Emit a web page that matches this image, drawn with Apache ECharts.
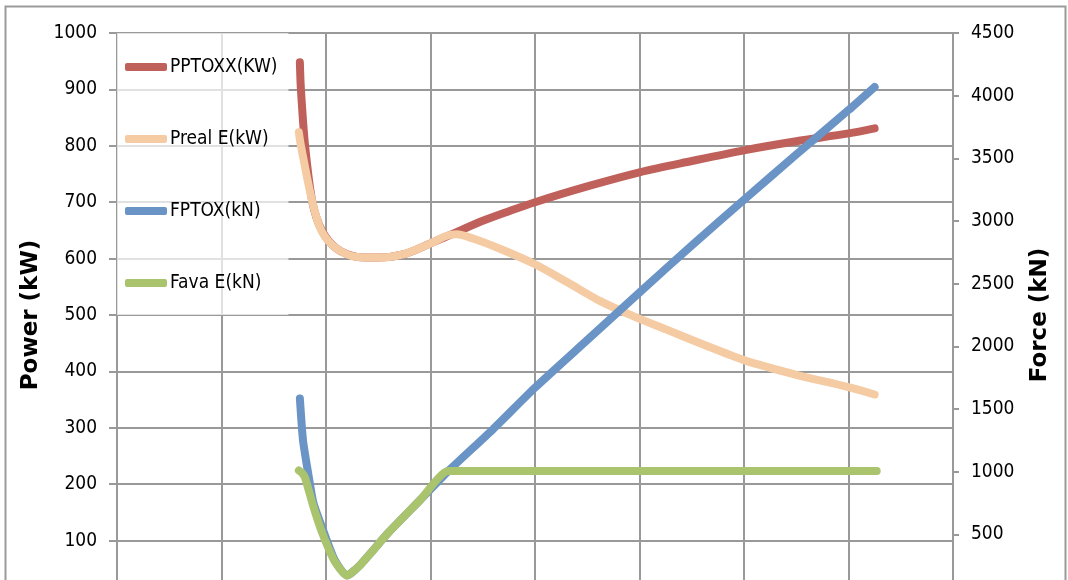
<!DOCTYPE html>
<html>
<head>
<meta charset="utf-8">
<script src="https://cdn.jsdelivr.net/npm/echarts@6/dist/echarts.min.js"></script>
<style>
html,body{margin:0;padding:0;background:#fff;}
#chart{width:1068px;height:580px;}
</style>
</head>
<body>
<div id="chart"></div>
<script>
// Series names
var seriesNames = ['PPTOXX(KW)', 'Preal E(kW)', 'FPTOX(kN)', 'Fava E(kN)'];
// x in grid units (0..8, one unit per vertical gridline)
var pptoxx = [[1.75,948],[1.76,900],[1.80,800],[1.87,700],[1.96,650],[2.1,618],[2.3,603],[2.5,602],[2.75,608],[3.0,627],[3.25,647],[3.5,667],[3.75,684],[4.0,700],[4.5,728],[5.0,753],[5.5,773],[6.0,792],[6.5,808],[7.0,822],[7.25,831]];
var prealE = [[1.74,824],[1.76,800],[1.87,700],[1.96,648],[2.1,618],[2.3,603],[2.5,602],[2.75,608],[3.0,627],[3.15,640],[3.25,643],[3.4,636],[3.67,617],[4.0,590],[4.31,558],[4.62,525],[4.94,498],[5.26,474],[5.58,450],[6.0,420],[6.5,394],[7.0,372],[7.25,359]];
var fptox = [[1.75,1583],[1.78,1250],[1.83,985],[1.88,750],[1.96,560],[2.08,300],[2.20,172],[2.32,250],[2.6,516],[2.9,773],[3.17,1005],[3.6,1340],[4.0,1670],[4.5,2050],[5.0,2430],[5.5,2805],[6.0,3170],[6.5,3530],[7.0,3885],[7.25,4070]];
var favaE = [[1.74,1009],[1.77,990],[1.80,950],[1.88,720],[1.96,520],[2.08,290],[2.20,172],[2.32,250],[2.6,516],[2.9,773],[3.17,1005],[3.5,1005],[7.27,1005]];
// Axis settings
var leftTicks = {min:0, max:1000, interval:100};
var rightTicks = {min:0, max:4500, interval:500};
var colors = ['#C0605A', '#F5CBA3', '#6A93C6', '#AAC46E'];
var smoothness = [0.3, 0.3, 0.2, 0.2];

var labelFont = "'Liberation Sans Narrow', 'DejaVu Sans Condensed', sans-serif";
var titleFont = "'DejaVu Sans', sans-serif";
var gridColor = '#999999';

var chart = echarts.init(document.getElementById('chart'));
var seriesData = [pptoxx, prealE, fptox, favaE];
var axisIdx = [0, 0, 1, 1];
function plain(v) { return String(v); }

chart.setOption({
  animation: false,
  backgroundColor: '#ffffff',
  color: colors,
  graphic: [{
    type: 'rect', left: 3, top: 4,
    shape: {width: 1060, height: 590},
    style: {fill: 'none', stroke: '#9a9a9a', lineWidth: 2},
    silent: true
  }],
  grid: {left: 117, top: 33, width: 836, height: 564, containLabel: false, outerBoundsMode: 'none'},
  legend: {
    orient: 'vertical', left: 117, top: 33,
    padding: [22, 11, 20, 8],
    itemGap: 48, itemWidth: 42, itemHeight: 8,
    icon: 'roundRect',
    backgroundColor: 'rgba(255,255,255,0.7)',
    textStyle: {fontFamily: labelFont, fontSize: 19, color: '#000', lineHeight: 24, padding: [0,0,0,-2]},
    data: seriesNames
  },
  xAxis: {
    type: 'value', min: 0, max: 8, interval: 1,
    axisLine: {show: false}, axisTick: {show: false}, axisLabel: {show: false},
    splitLine: {show: true, lineStyle: {color: gridColor, width: 2}}
  },
  yAxis: [{
    type: 'value', min: leftTicks.min, max: leftTicks.max, interval: leftTicks.interval,
    position: 'left',
    name: 'Power (kW)', nameLocation: 'middle', nameGap: 63, nameRotate: 90,
    nameTextStyle: {fontFamily: titleFont, fontWeight: 'bold', fontSize: 23, color: '#000'},
    axisLine: {show: true, lineStyle: {color: gridColor, width: 2}},
    axisTick: {show: true, length: 8, lineStyle: {color: gridColor, width: 2}},
    axisLabel: {fontFamily: labelFont, fontSize: 19, color: '#000', margin: 20, formatter: plain},
    splitLine: {show: true, lineStyle: {color: gridColor, width: 2}}
  }, {
    type: 'value', min: rightTicks.min, max: rightTicks.max, interval: rightTicks.interval,
    position: 'right',
    name: 'Force (kN)', nameLocation: 'middle', nameGap: 76, nameRotate: 90,
    nameTextStyle: {fontFamily: titleFont, fontWeight: 'bold', fontSize: 23, color: '#000'},
    axisLine: {show: true, lineStyle: {color: gridColor, width: 2}},
    axisTick: {show: true, length: 6, lineStyle: {color: gridColor, width: 2}},
    axisLabel: {fontFamily: labelFont, fontSize: 19, color: '#000', margin: 18, formatter: plain},
    splitLine: {show: false}
  }],
  series: seriesNames.map(function (name, i) {
    return {
      name: name, type: 'line', yAxisIndex: axisIdx[i],
      data: seriesData[i], symbol: 'none', smooth: smoothness[i],
      lineStyle: {width: 8, color: colors[i], cap: 'round', join: 'round'},
      itemStyle: {color: colors[i]},
      clip: false
    };
  })
});
</script>
</body>
</html>
